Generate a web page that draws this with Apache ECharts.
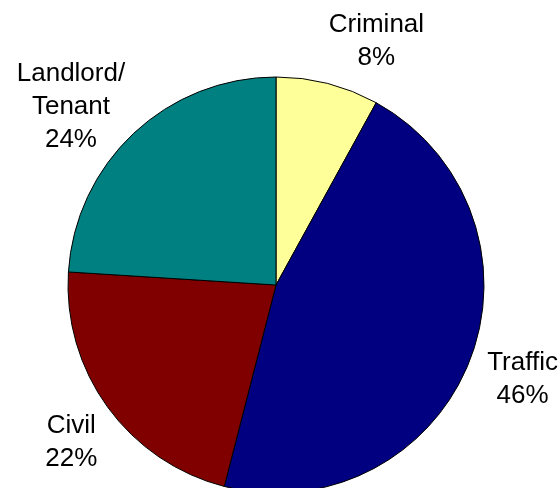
<!DOCTYPE html>
<html>
<head>
    <meta charset="utf-8">
    <title>Cases</title>
    <style>
        html, body { margin: 0; padding: 0; background: #fff; }
        #chart { width: 560px; height: 488px; }
    </style>
</head>
<body>
<div id="chart"></div>
<script src="https://cdn.jsdelivr.net/npm/echarts@6/dist/echarts.min.js"></script>
<script>
    var categories = ['Criminal', 'Traffic', 'Civil', 'Landlord/\nTenant'];
    var values = [8, 46, 22, 24];
    var colors = ['#ffff99', '#000080', '#800000', '#008080'];

    var pieData = [];
    for (var i = 0; i < categories.length; i++) {
        pieData.push({ name: categories[i], value: values[i], itemStyle: { color: colors[i] } });
    }

    // nudges for the outside labels
    var labelNudge = [[30, 11], [-3, -2], [13, 3], [-20, 14]];

    var myChart = echarts.init(document.getElementById('chart'));
    var option = {
        animation: false,
        series: [{
            type: 'pie',
            center: [276, 285],
            radius: 208,
            startAngle: 90,
            clockwise: true,
            avoidLabelOverlap: false,
            data: pieData,
            itemStyle: {
                borderColor: '#000',
                borderWidth: 1
            },
            label: {
                show: true,
                position: 'outside',
                formatter: '{b}\n{d}%',
                fontFamily: 'Liberation Sans',
                fontSize: 26,
                lineHeight: 33,
                color: '#000'
            },
            labelLine: { show: false, length: 55, length2: 0 },
            labelLayout: function (params) {
                var n = labelNudge[params.dataIndex];
                return { align: 'center', verticalAlign: 'middle', dx: n[0], dy: n[1] };
            },
            emphasis: { disabled: true }
        }]
    };
    myChart.setOption(option);
</script>
</body>
</html>
